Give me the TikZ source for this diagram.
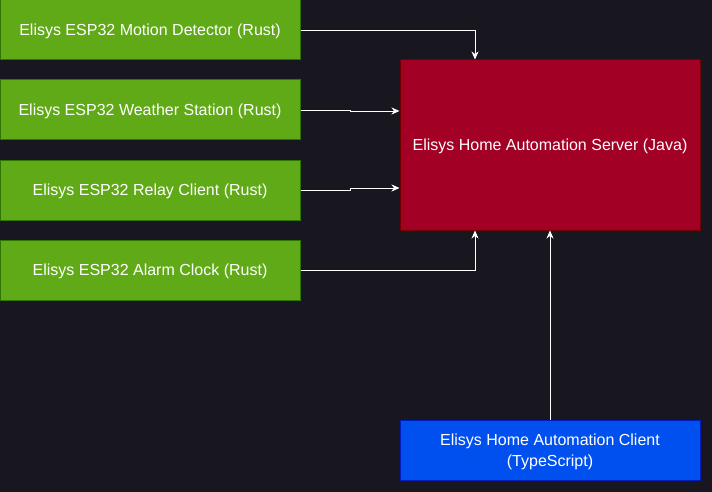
\documentclass[tikz,border=0pt]{standalone}
\usepackage{fontspec}
\setmainfont{Liberation Sans}
\usetikzlibrary{arrows.meta}
\definecolor{bg}{HTML}{18161F}
\definecolor{gfill}{HTML}{60A917}
\definecolor{gline}{HTML}{2D7600}
\definecolor{rfill}{HTML}{A20025}
\definecolor{rline}{HTML}{6F0000}
\definecolor{bfill}{HTML}{0050EF}
\definecolor{bline}{HTML}{001DBC}
\tikzset{
  box/.style={draw, line width=1pt, minimum width=300pt, inner sep=0pt, text depth=0pt, text=white, align=center, font=\fontsize{16}{21}\selectfont},
  gbox/.style={box, fill=gfill, draw=gline, minimum height=60pt},
  conn/.style={draw=white, line width=0.9pt, -{Stealth[length=8pt,width=7pt,inset=2.5pt]}},
}
\begin{document}
\begin{tikzpicture}[x=1pt,y=-1pt]
\fill[bg] (0,0) rectangle (712,492);
\useasboundingbox (0,0) rectangle (712,492);
\node[gbox] (g1) at (150,30) {Elisys ESP32 Motion Detector (Rust)};
\node[gbox] (g2) at (150,110) {Elisys ESP32 Weather Station (Rust)};
\node[gbox] (g3) at (150,190) {Elisys ESP32 Relay Client (Rust)};
\node[gbox] (g4) at (150,270) {Elisys ESP32 Alarm Clock (Rust)};
\node[box, fill=rfill, draw=rline, minimum height=170pt] (srv) at (550,145) {Elisys Home Automation Server (Java)};
\node[box, fill=bfill, draw=bline, minimum height=60pt] (cli) at (550,450) {Elisys Home Automation Client\\(TypeScript)};
\coordinate (j2a) at (350,110);
\coordinate (j2b) at (350,111);
\coordinate (j3a) at (350,190);
\coordinate (j3b) at (350,188);
\draw[conn] (g1.east) -| (srv.north west -| 475,0);
\draw[conn] (g2.east) -- (j2a) -- (j2b) -- (j2b -| srv.west);
\draw[conn] (g3.east) -- (j3a) -- (j3b) -- (j3b -| srv.west);
\draw[conn] (g4.east) -| (srv.south west -| 475,0);
\draw[conn] (cli.north) -- (srv.south);
\end{tikzpicture}
\end{document}
